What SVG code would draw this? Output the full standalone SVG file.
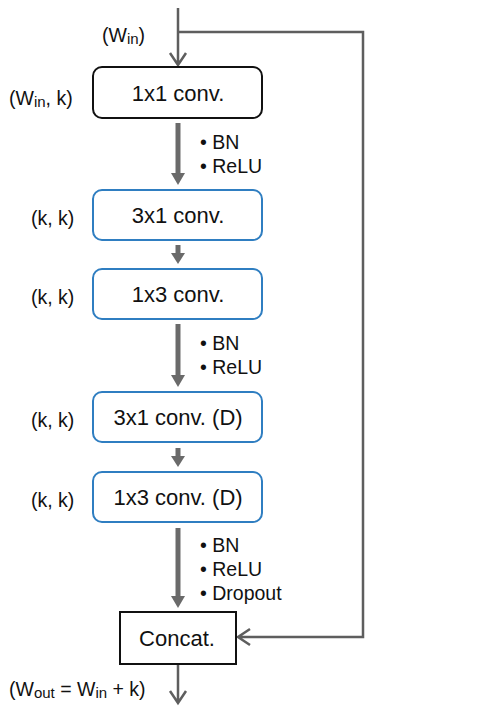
<svg xmlns="http://www.w3.org/2000/svg" width="497" height="710" viewBox="0 0 497 710">
<style>
text{font-family:"Liberation Sans",Arial,sans-serif;fill:#111}
.bt{font-size:22px;text-anchor:middle}
.lb{font-size:19.5px}
.sub{font-size:15px}
.bk{fill:#fff;stroke:#111;stroke-width:2}
.bl{fill:#fff;stroke:#2f7ec1;stroke-width:2}
.thin{fill:none;stroke:#5e5e5e;stroke-width:2.5}
.thick{stroke:#6a6a6a;stroke-width:5}
.head{fill:#6a6a6a}
</style>
<g id="connectors">
  <path class="thin" d="M178 8V65M170 53L178 65L186 53"/>
  <path class="thin" d="M178 32H363V637H238M250 629L238 637L250 645"/>
  <path class="thin" d="M178 664V703M170 691L178 703L186 691"/>
  <line class="thick" x1="178" y1="123" x2="178" y2="174"/><path class="head" d="M171 173L185 173L178 185Z"/>
  <line class="thick" x1="178" y1="245" x2="178" y2="254"/><path class="head" d="M171 253L185 253L178 264Z"/>
  <line class="thick" x1="178" y1="324" x2="178" y2="376"/><path class="head" d="M171 375L185 375L178 387Z"/>
  <line class="thick" x1="178" y1="448" x2="178" y2="457"/><path class="head" d="M171 456L185 456L178 467Z"/>
  <line class="thick" x1="178" y1="528" x2="178" y2="597"/><path class="head" d="M171 596L185 596L178 608Z"/>
</g>
<g id="labels">
  <text class="lb" x="102" y="42">(W<tspan class="sub" dy="2">in</tspan><tspan dy="-2">)</tspan></text>
  <text class="lb" x="9" y="105">(W<tspan class="sub" dy="2">in</tspan><tspan dy="-2">, k)</tspan></text>
  <text class="lb" x="31" y="225">(k, k)</text>
  <text class="lb" x="31" y="304">(k, k)</text>
  <text class="lb" x="31" y="427">(k, k)</text>
  <text class="lb" x="31" y="507">(k, k)</text>
  <text class="lb" x="9" y="696">(W<tspan class="sub" dy="2">out</tspan><tspan dy="-2"> = W</tspan><tspan class="sub" dy="2">in</tspan><tspan dy="-2"> + k)</tspan></text>
  <text class="lb" x="200" y="149">• BN</text>
  <text class="lb" x="200" y="173">• ReLU</text>
  <text class="lb" x="200" y="350">• BN</text>
  <text class="lb" x="200" y="374">• ReLU</text>
  <text class="lb" x="200" y="552">• BN</text>
  <text class="lb" x="200" y="576">• ReLU</text>
  <text class="lb" x="200" y="600">• Dropout</text>
</g>
<g id="n1"><rect class="bk" x="93" y="67" width="169" height="51" rx="9"/><text class="bt" x="178" y="101">1x1 conv.</text></g>
<g id="n2"><rect class="bl" x="93" y="190" width="169" height="50" rx="9"/><text class="bt" x="178" y="223">3x1 conv.</text></g>
<g id="n3"><rect class="bl" x="93" y="269" width="169" height="50" rx="9"/><text class="bt" x="178" y="302">1x3 conv.</text></g>
<g id="n4"><rect class="bl" x="93" y="392" width="169" height="50" rx="9"/><text class="bt" x="178" y="425">3x1 conv. (D)</text></g>
<g id="n5"><rect class="bl" x="93" y="472" width="169" height="50" rx="9"/><text class="bt" x="178" y="505">1x3 conv. (D)</text></g>
<g id="concat"><rect class="bk" x="120" y="612" width="116" height="52"/><text class="bt" x="177" y="646">Concat.</text></g>
</svg>
